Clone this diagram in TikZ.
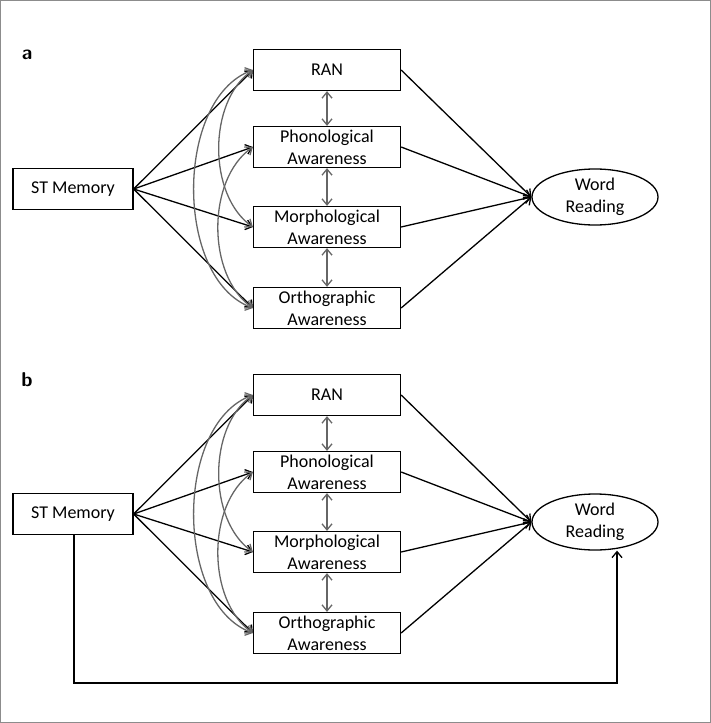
\documentclass[tikz,border=0pt]{standalone}
\usepackage{fontspec}
\setmainfont{Carlito}
\usetikzlibrary{shapes.geometric,arrows.meta}
\begin{document}
\begin{tikzpicture}[x=1pt,y=-1pt,
  box/.style={draw,line width=1.3pt,minimum width=147pt,minimum height=41pt,inner sep=0pt,align=center,font=\fontsize{18}{22}\selectfont},
  ell/.style={draw,ellipse,line width=1.3pt,minimum width=126pt,minimum height=56pt,inner sep=0pt,align=center,font=\fontsize{18}{22}\selectfont},
  arr/.style={line width=1.3pt,-{Straight Barb[length=6pt,width=10pt]}},
  cor/.style={draw=black!60,line width=1.3pt,{Straight Barb[length=6pt,width=10pt]}-{Straight Barb[length=6pt,width=10pt]}},
  lbl/.style={font=\fontsize{20}{24}\selectfont\bfseries\sffamily}]
\useasboundingbox (0,0) rectangle (711,723);
\draw[black!45,line width=1pt] (0.5,0.5) rectangle (710.5,722.5);
\foreach \p/\oy in {a/0,b/325}{
  \begin{scope}[yshift=-\oy]
  \node[lbl] (lab\p) at (27,55) {\p};
  \node[box,minimum width=120pt] (st\p) at (73,189) {ST Memory};
  \node[box] (ran\p) at (327,70) {RAN};
  \node[box] (pho\p) at (327,147) {Phonological\\Awareness};
  \node[box] (mor\p) at (327,227) {Morphological\\Awareness};
  \node[box] (ort\p) at (327,308) {Orthographic\\Awareness};
  \node[ell] (wr\p) at (595,197) {Word\\Reading};
  \foreach \n in {ran,pho,mor,ort}{
    \draw[arr] (st\p.east) -- (\n\p.west);
    \draw[arr] (\n\p.east) -- (wr\p.west);
  }
  \draw[cor] (ran\p.south) -- (pho\p.north);
  \draw[cor] (pho\p.south) -- (mor\p.north);
  \draw[cor] (mor\p.south) -- (ort\p.north);
  \draw[cor] (ran\p.west) to[out=200,in=160,looseness=0.9] (ort\p.west);
  \draw[cor] (ran\p.west) to[out=215,in=145,looseness=0.9] (mor\p.west);
  \draw[cor] (pho\p.west) to[out=215,in=145,looseness=0.9] (ort\p.west);
  \end{scope}
}
\coordinate (c1) at (74,683);
\coordinate (c2) at (617,683);
\draw[arr] (stb.south -| c1) -- (c1) -- (c2) -- (c2 |- wrb.south);
\end{tikzpicture}
\end{document}
